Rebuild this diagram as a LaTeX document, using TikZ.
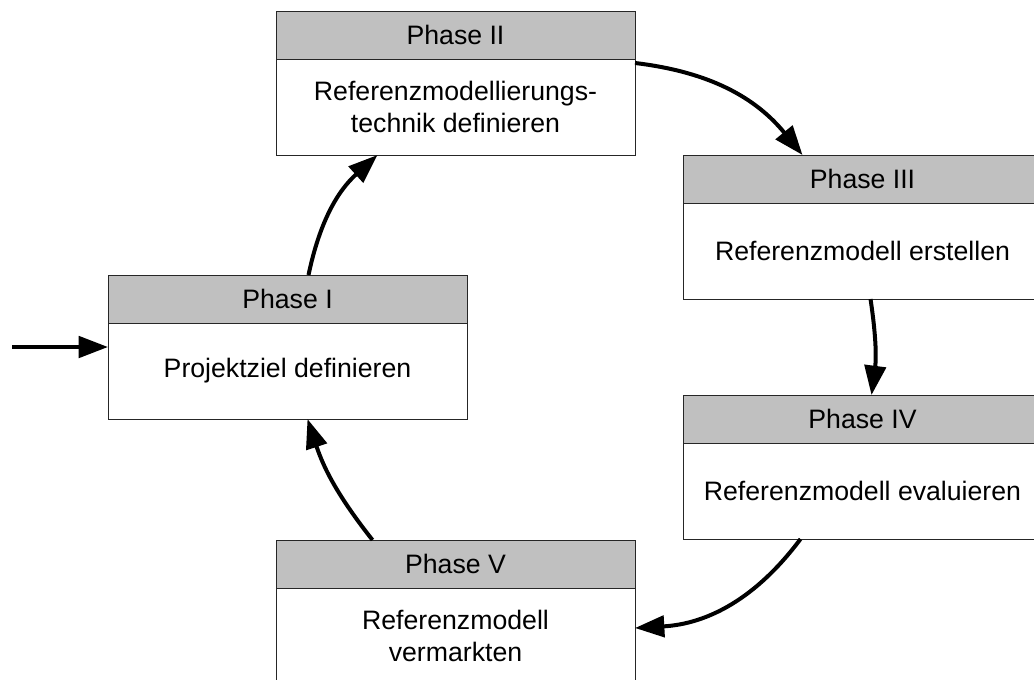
\documentclass[tikz,border=0pt]{standalone}
\usepackage{fontspec}
\setmainfont{Liberation Sans}
\usetikzlibrary{positioning,calc,arrows.meta}
\definecolor{headgray}{RGB}{192,192,192}
\tikzset{
  phasehead/.style={draw=black!85,fill=headgray,line width=.75pt,outer sep=0pt,inner sep=0pt,
    minimum width=269.25pt,minimum height=36pt},
  phasebody/.style={draw=black!85,fill=white,line width=.75pt,outer sep=0pt,inner sep=0pt,
    minimum width=269.25pt,minimum height=72pt,align=center},
  flow/.style={line width=3pt,-{Triangle[length=22pt,width=16pt]}}
}

\begin{document}
\begin{tikzpicture}[x=.75pt,y=-.75pt,font=\fontsize{20}{23.5}\selectfont]
    \useasboundingbox (0,0) rectangle (1034,679);

    %% headers
    \node[phasehead] (h1) at (287.5,299) {Phase I};
    \node[phasehead] (h2) at (455.5,35) {Phase II};
    \node[phasehead] (h3) at (862.5,179) {Phase III};
    \node[phasehead] (h4) at (862.5,419) {Phase IV};
    \node[phasehead] (h5) at (455.5,564) {Phase V};

    %% bodies
    \node[phasebody,below=0pt of h1] (b1) {Projektziel definieren};
    \node[phasebody,below=0pt of h2] (b2) {Referenzmodellierungs-\\technik definieren};
    \node[phasebody,below=0pt of h3] (b3) {Referenzmodell erstellen};
    \node[phasebody,below=0pt of h4] (b4) {Referenzmodell evaluieren};
    \node[phasebody,below=0pt of h5] (b5) {Referenzmodell\\vermarkten};

    %% entry
    \coordinate (in) at (12,347);
    \draw[flow] (in) -- (in -| b1.west);

    %% cycle
    \draw[flow] ($(h1.north)+(21,0)$) to[bend left=18] ($(b2.south)+(-78,0)$);
    \draw[flow] ($(b2.north east)+(0,4)$) to[bend left=22] ($(h3.north)+(-60,0)$);
    \draw[flow] ($(b3.south)+(8,0)$) to[bend left=8] ($(h4.north)+(9,0)$);
    \draw[flow] ($(b4.south)+(-62,0)$) to[bend left=25] ($(b5.east)+(0,-8)$);
    \draw[flow] ($(h5.north)+(-83,0)$) to[bend left=10] ($(b1.south)+(20,0)$);
\end{tikzpicture}
\end{document}
